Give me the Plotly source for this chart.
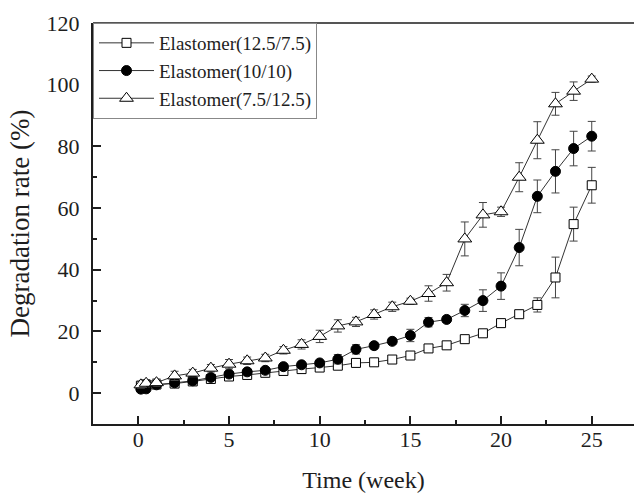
import plotly.graph_objects as go

weeks = [0.14, 0.43, 1, 2, 3, 4, 5, 6, 7, 8, 9, 10, 11, 12, 13, 14, 15, 16, 17, 18, 19, 20, 21, 22, 23, 24, 25]

sq_vals = [2.4, 2.7, 2.8, 3.1, 3.8, 4.6, 5.4, 5.9, 6.6, 7.2, 7.8, 8.3, 8.9, 9.8, 10.0, 10.9,
           12.2, 14.5, 15.5, 17.5, 19.4, 22.7, 25.6, 28.6, 37.5, 54.8, 67.4]
sq_err = [0.8, 0.8, 0.8, 0.8, 0.8, 0.8, 0.8, 0.8, 0.8, 0.8, 0.8, 0.8, 1.0, 1.0, 1.0, 0.8,
          0.8, 0.8, 0.8, 0.8, 0.8, 1.0, 1.0, 2.3, 6.6, 5.5, 5.8]

ci_vals = [1.3, 1.4, 2.7, 3.4, 4.0, 5.1, 6.2, 6.9, 7.4, 8.6, 9.2, 9.8, 11.0, 14.2, 15.4, 16.8,
           18.7, 23.0, 23.9, 26.8, 30.0, 34.7, 47.2, 63.8, 71.9, 79.3, 83.3]
ci_err = [0.8, 0.8, 0.8, 0.8, 0.8, 0.8, 0.8, 0.8, 0.8, 0.8, 0.8, 0.8, 1.5, 1.5, 1.0, 1.0,
          2.0, 1.5, 1.0, 2.0, 3.5, 4.3, 5.9, 5.3, 7.0, 5.6, 4.8]

tr_vals = [2.7, 3.2, 3.4, 5.6, 6.5, 8.1, 9.4, 10.5, 11.4, 13.9, 15.8, 18.4, 21.8, 23.1, 25.5, 28.0,
           29.8, 32.3, 35.8, 50.0, 57.8, 58.8, 70.0, 82.0, 93.8, 97.9, 101.8]
tr_err = [1.2, 1.2, 1.2, 1.5, 1.2, 1.2, 1.5, 1.2, 1.2, 1.2, 1.5, 2.0, 2.0, 1.5, 1.5, 1.5,
          1.0, 2.5, 2.7, 5.5, 4.0, 1.5, 4.7, 6.0, 3.7, 3.0, 1.0]

series = [
    ("Elastomer(12.5/7.5)", sq_vals, sq_err, "square", "white", 9),
    ("Elastomer(10/10)", ci_vals, ci_err, "circle", "black", 10),
    ("Elastomer(7.5/12.5)", tr_vals, tr_err, "triangle-up", "white", 12),
]

FONT = "Liberation Serif"
INK = "#1e1e1e"
fig = go.Figure()
for name, vals, err, sym, fill, size in series:
    fig.add_trace(go.Scatter(
        x=weeks, y=vals, name=name, mode="lines+markers",
        line=dict(color="#333333", width=1),
        marker=dict(symbol=sym, size=size, color=fill, line=dict(color="black", width=1)),
        error_y=dict(type="data", array=err, visible=True, color="#444444", thickness=1, width=4),
    ))

fig.update_layout(
    width=634, height=500,
    margin=dict(l=93, r=0, t=23, b=76),
    paper_bgcolor="white", plot_bgcolor="white",
    font=dict(family=FONT, color=INK),
    showlegend=True,
    legend=dict(x=0, y=1, xanchor="left", yanchor="top",
                bordercolor="#888888", borderwidth=1, bgcolor="white",
                font=dict(family=FONT, size=19, color=INK),
                itemwidth=55, tracegroupgap=0),
    shapes=[dict(type="line", xref="paper", yref="paper", x0=0, x1=1, y0=1, y1=1,
                 line=dict(color="#555555", width=2), layer="above")],
)
fig.update_xaxes(
    range=[-2.5, 27.33], tick0=0, dtick=5,
    ticks="inside", ticklen=8, tickwidth=1.5, tickcolor=INK,
    minor=dict(ticks="inside", ticklen=4, dtick=2.5, tickwidth=1.5, tickcolor=INK),
    showline=True, linecolor=INK, linewidth=2, mirror=False,
    showgrid=False, zeroline=False,
    tickfont=dict(family=FONT, size=22, color=INK),
    ticklabelstandoff=-5,
    title=dict(text="Time (week)", font=dict(family=FONT, size=24, color=INK), standoff=20),
)
fig.update_yaxes(
    range=[-10, 120], tick0=0, dtick=20,
    ticks="inside", ticklen=8, tickwidth=1.5, tickcolor=INK,
    minor=dict(ticks="inside", ticklen=4, dtick=10, tickwidth=1.5, tickcolor=INK),
    showline=True, linecolor=INK, linewidth=2, mirror=False,
    showgrid=False, zeroline=False,
    tickfont=dict(family=FONT, size=22, color=INK),
    ticklabelstandoff=7,
    title=dict(text="Degradation rate (%)", font=dict(family=FONT, size=27, color=INK), standoff=9),
)

fig.write_html("out.html")
